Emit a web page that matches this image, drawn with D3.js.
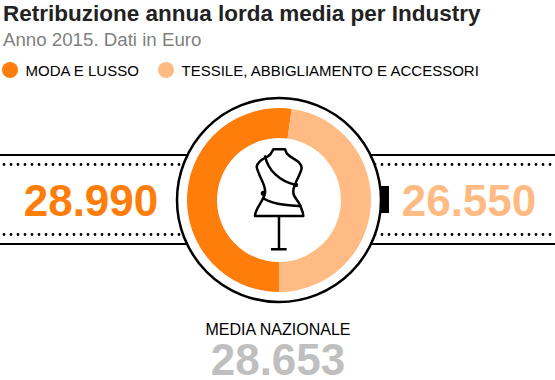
<!DOCTYPE html>
<html>
<head>
<meta charset="utf-8">
<script src="https://cdn.jsdelivr.net/npm/d3@7"></script>
<style>
  html, body { margin: 0; padding: 0; background: #fff; }
  text { font-family: "Liberation Sans", Arial, sans-serif; }
</style>
</head>
<body>
<script>
const width = 555;
const height = 380;

const categories = ["MODA E LUSSO", "TESSILE, ABBIGLIAMENTO E ACCESSORI"];
const values = [28990, 26550];
const valueLabels = ["28.990", "26.550"];
const colors = ["#ff7d0a", "#ffbb83"];
const averageLabel = "MEDIA NAZIONALE";
const averageValue = "28.653";

const cx = 279, cy = 200;

const svg = d3.select("body").append("svg")
    .attr("width", width)
    .attr("height", height)
    .style("display", "block");

// title block
svg.append("text").attr("x", 3).attr("y", 21)
    .attr("font-size", 22.5).attr("font-weight", "bold").attr("fill", "#222")
    .text("Retribuzione annua lorda media per Industry");
svg.append("text").attr("x", 3).attr("y", 46)
    .attr("font-size", 18.7).attr("fill", "#808080")
    .text("Anno 2015. Dati in Euro");

// legend
const legendX = [10, 166];
const legend = svg.append("g").selectAll("g")
    .data(categories)
    .enter().append("g")
    .attr("transform", (d, i) => `translate(${legendX[i]},70)`);
legend.append("circle").attr("r", 8).attr("fill", (d, i) => colors[i]);
legend.append("text").attr("x", 15.5).attr("y", 6)
    .attr("font-size", 15).attr("fill", "#000")
    .text(d => d);

// horizontal band behind the ring
[155, 244].forEach(y => {
    svg.append("line").attr("x1", 0).attr("x2", width).attr("y1", y).attr("y2", y)
        .attr("stroke", "#000").attr("stroke-width", 2);
});
[164.5, 234.5].forEach(y => {
    svg.append("line").attr("x1", 4).attr("x2", width).attr("y1", y).attr("y2", y)
        .attr("stroke", "#000").attr("stroke-width", 2.8)
        .attr("stroke-linecap", "round").attr("stroke-dasharray", "0 7");
});

// black tab on the right of the ring
svg.append("rect").attr("x", 379).attr("y", 186).attr("width", 10).attr("height", 27).attr("fill", "#000");

// ring
svg.append("circle").attr("cx", cx).attr("cy", cy).attr("r", 102)
    .attr("fill", "#fff").attr("stroke", "#000").attr("stroke-width", 2.5);

// donut, starts from the bottom and goes clockwise
const pie = d3.pie().sort(null).startAngle(Math.PI).endAngle(3 * Math.PI);
const arc = d3.arc().innerRadius(62).outerRadius(92);
svg.append("g").attr("transform", `translate(${cx},${cy})`)
    .selectAll("path")
    .data(pie(values))
    .enter().append("path")
    .attr("d", arc)
    .attr("fill", (d, i) => colors[i]);

// big numbers
const valueX = [91, 469];
svg.append("g").selectAll("text")
    .data(valueLabels)
    .enter().append("text")
    .attr("x", (d, i) => valueX[i])
    .attr("y", 216)
    .attr("text-anchor", "middle")
    .attr("font-size", 44)
    .attr("font-weight", "bold")
    .attr("fill", (d, i) => colors[i])
    .text(d => d);

// mannequin icon
const icon = svg.append("g")
    .attr("transform", "translate(220,130) scale(0.3333)")
    .attr("fill", "none").attr("stroke", "#000").attr("stroke-width", 7.5)
    .attr("stroke-linejoin", "round");
icon.append("path").attr("d",
    "M105,258 L250,258 C250,245 243,235 240,225 C232,208 218,200 220,185 " +
    "C218,165 240,140 245,115 C243,90 215,88 200,70 L195,58 L160,58 L153,70 " +
    "C145,85 115,85 110,110 C115,140 140,165 135,190 C130,215 105,235 105,258 Z");
icon.append("path").attr("d", "M135,76 C142,120 180,155 228,165");
icon.append("path").attr("d", "M130,205 C160,225 205,225 245,229");
icon.append("path").attr("d", "M177,258 L177,358 M153,358 L200,358");
icon.append("circle").attr("cx", 228).attr("cy", 165).attr("r", 3);
icon.append("circle").attr("cx", 130).attr("cy", 190).attr("r", 4);

// national average
svg.append("text").attr("x", 278).attr("y", 335)
    .attr("text-anchor", "middle").attr("font-size", 16).attr("fill", "#000")
    .text(averageLabel);
svg.append("text").attr("x", 278).attr("y", 375)
    .attr("text-anchor", "middle").attr("font-size", 44)
    .attr("font-weight", "bold").attr("fill", "#bfbfbf")
    .text(averageValue);
</script>
</body>
</html>
